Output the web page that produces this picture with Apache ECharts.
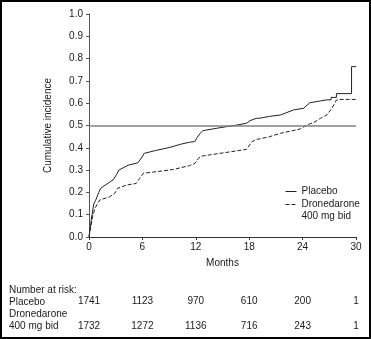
<!DOCTYPE html>
<html><head><meta charset="utf-8">
<script src="https://cdn.jsdelivr.net/npm/echarts@6/dist/echarts.min.js"></script>
<style>html,body{margin:0;padding:0;background:#fff}#c{width:371px;height:339px}</style>
</head><body><div id="c"></div>
<script>
const months = [0, 6, 12, 18, 24, 30];
const placebo = [[0,0],[0.05,0],[0.3,0.09],[0.55,0.15],[0.75,0.165],[1.1,0.2],[1.3,0.218],[1.8,0.232],[2.7,0.256],[3.1,0.28],[3.35,0.3],[4.4,0.322],[5.5,0.333],[5.9,0.355],[6.2,0.375],[7.5,0.388],[9.1,0.402],[10.4,0.417],[11.3,0.425],[11.9,0.428],[12.1,0.443],[12.5,0.465],[12.8,0.477],[14.7,0.49],[16.6,0.502],[17.7,0.51],[18.1,0.522],[18.8,0.532],[19.2,0.533],[20.3,0.541],[21.5,0.547],[23,0.57],[24.1,0.577],[24.8,0.602],[26,0.61],[26.7,0.615],[27.2,0.615],[27.2,0.626],[27.8,0.626],[27.8,0.643],[29.5,0.643],[29.5,0.764],[30,0.764]];
const dronedarone = [[0,0],[0.1,0],[0.4,0.09],[0.67,0.129],[1.2,0.166],[2.3,0.18],[2.9,0.196],[3.2,0.218],[4.2,0.233],[5.3,0.24],[5.7,0.263],[6.1,0.286],[7.6,0.293],[9.5,0.303],[11.3,0.32],[11.9,0.33],[12.3,0.353],[12.7,0.363],[14.7,0.375],[17.7,0.393],[18.3,0.427],[18.8,0.438],[19.2,0.44],[20.3,0.45],[21.5,0.465],[23.7,0.484],[24.5,0.502],[25.4,0.517],[26,0.532],[26.7,0.547],[27.3,0.577],[27.8,0.614],[28.2,0.617],[30,0.617]];
const riskPlacebo = [1741, 1123, 970, 610, 200, 1];
const riskDronedarone = [1732, 1272, 1136, 716, 243, 1];
const seriesNames = ['Placebo', 'Dronedarone\n400 mg bid'];
const rowLabels = ['Number at risk:', 'Placebo', 'Dronedarone', '400 mg bid'];
const refLevel = 0.5;

const FONT = "'Liberation Sans', Arial, sans-serif";
const TXT = '#1a1a1a';
const chart = echarts.init(document.getElementById('c'), null, {renderer: 'canvas'});
function riskAxis(offset, arr) {
  return {
    type: 'value', min: 0, max: 30, interval: 6, position: 'bottom', offset: offset,
    axisLine: {show: false}, axisTick: {show: false}, splitLine: {show: false},
    axisLabel: {margin: 0, fontSize: 10, fontFamily: FONT, color: TXT,
      formatter: v => { const i = months.indexOf(v); return i >= 0 ? String(arr[i]) : ''; }}
  };
}
const rowY = [285.5, 297.5, 309, 321];
const legendCommon = {left: 285, orient: 'vertical', padding: 0, itemWidth: 11, itemHeight: 12,
  itemStyle: {opacity: 0}, lineStyle: {width: 1}};
chart.setOption({
  animation: false,
  grid: {left: 89, right: 15, top: 14, bottom: 102, containLabel: false},
  legend: [
    Object.assign({data: [seriesNames[0]], top: 186.5,
      textStyle: {fontSize: 10, fontFamily: FONT, color: TXT}}, legendCommon),
    Object.assign({data: [seriesNames[1]], top: 186.5,
      formatter: n => ' \n' + n,
      textStyle: {fontSize: 10, fontFamily: FONT, color: TXT, lineHeight: 12}}, legendCommon)
  ],
  xAxis: [
    {type: 'value', min: 0, max: 30, interval: 6, name: 'Months', nameLocation: 'middle', nameGap: 21,
     nameTextStyle: {fontSize: 10, fontFamily: FONT, color: TXT},
     axisLine: {lineStyle: {color: '#333', width: 1}},
     axisTick: {length: 3, lineStyle: {color: '#333'}},
     splitLine: {show: false},
     axisLabel: {margin: 5, fontSize: 10, fontFamily: FONT, color: TXT}},
    riskAxis(59.5, riskPlacebo),
    riskAxis(84, riskDronedarone)
  ],
  yAxis: {type: 'value', min: 0, max: 1, interval: 0.1, name: 'Cumulative incidence',
    nameLocation: 'middle', nameGap: 36, nameTextStyle: {fontSize: 10, fontFamily: FONT, color: TXT},
    axisLine: {show: true, lineStyle: {color: '#555', width: 1}},
    axisTick: {show: true, length: 3, lineStyle: {color: '#555'}},
    splitLine: {show: false},
    axisLabel: {margin: 6, fontSize: 10, fontFamily: FONT, color: TXT, formatter: v => v.toFixed(1)}},
  series: [
    {name: seriesNames[0], type: 'line', data: placebo, xAxisIndex: 0, symbol: 'none',
     lineStyle: {color: '#222', width: 1}, itemStyle: {color: '#222'},
     markLine: {silent: true, symbol: 'none', label: {show: false},
       lineStyle: {color: '#808080', width: 1.5, type: 'solid'}, data: [{yAxis: refLevel}]}},
    {name: seriesNames[1], type: 'line', data: dronedarone, xAxisIndex: 0, symbol: 'none',
     lineStyle: {color: '#222', width: 1, type: [4, 2]}, itemStyle: {color: '#222'}}
  ],
  graphic: [
    {type: 'rect', shape: {x: 1, y: 1, width: 369, height: 337}, style: {fill: 'none', stroke: '#000', lineWidth: 2}, silent: true}
  ].concat(rowLabels.map((t, i) => ({type: 'text', left: 9, top: rowY[i],
     style: {text: t, fontSize: 10, fontFamily: FONT, fill: TXT}})))
});
</script></body></html>
